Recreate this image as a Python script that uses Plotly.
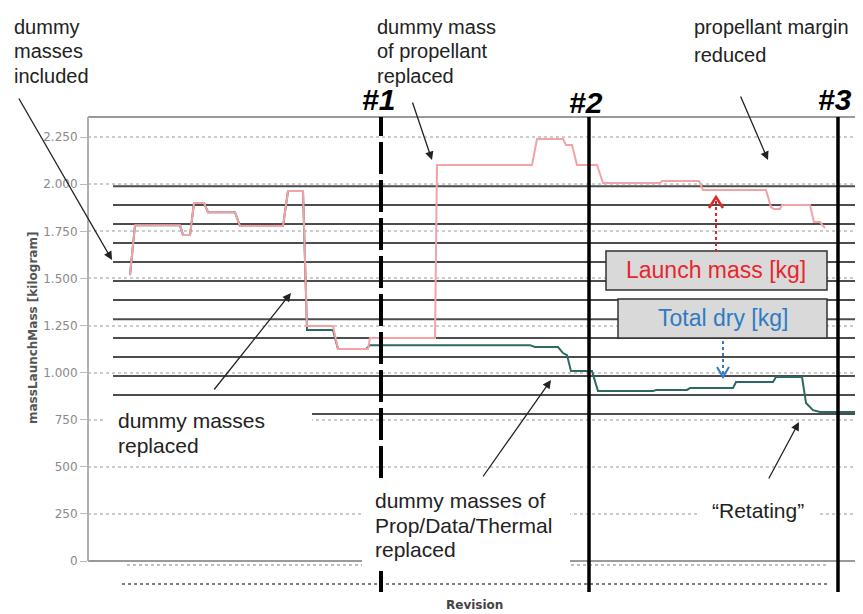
import plotly.graph_objects as go

# ---------------- data ----------------
# Launch mass [kg] per revision
rev_launch = [21, 23.5, 46, 47.5, 51, 53, 58, 60, 73.5, 76, 97.5, 100, 107.5, 109.5, 122.5, 125, 140, 141,
              173.5, 174.5, 222, 224.5, 237.5, 239, 242, 244.5, 254.5, 257.5, 286, 287, 305.5, 307.5,
              339, 341.5, 343, 346, 347, 361, 363, 366, 368.5]
launch_mass = [1518, 1783, 1783, 1730, 1730, 1900, 1900, 1852, 1852, 1778, 1778, 1964, 1964, 1247, 1247,
               1125, 1125, 1184, 1184, 2102, 2102, 2240, 2240, 2208, 2208, 2102, 2102, 2006, 2006, 2017,
               2017, 1969, 1969, 1879, 1868, 1868, 1890, 1890, 1799, 1799, 1767]

# Total dry mass [kg] per revision
rev_dry = [21, 23.5, 46, 47.5, 51, 53, 58, 60, 73.5, 76, 97.5, 100, 107.5,
           109.5, 122.5, 125, 139, 141, 221, 223.5, 235, 237.5, 239.5, 241.5, 252, 255, 282.5, 284,
           299.5, 301, 322.5, 324, 342.5, 344, 357, 359, 362.5, 366, 384.5]
total_dry = [1518, 1783, 1783, 1730, 1730, 1900, 1900, 1852, 1852, 1778, 1778, 1964, 1964,
             1226, 1226, 1125, 1125, 1146, 1146, 1136, 1136, 1104, 1093, 1008, 1008, 902, 902, 908,
             908, 918, 918, 950, 950, 977, 977, 839, 801, 791, 791]

# overlay reference levels [kg]
ref_levels = [1990, 1890, 1789, 1688, 1587, 1486, 1385, 1284, 1184, 1083, 982, 881, 780]
ref_start, ref_end = 12.5, 384.5

# milestones (revision) and labels
milestone_rev = [146.5, 250.5, 375]
milestone_lbl = ["#1", "#2", "#3"]
milestone_dash = ["32px,6px", "solid", "solid"]
milestone_bottom = -165

y_ticks = [0, 250, 500, 750, 1000, 1250, 1500, 1750, 2000, 2250]
y_range = [-207, 2357]
x_range = [0, 386]

# ---------------- layout helpers ----------------
OFF = 8                      # page body margin
SW, SH = 863, 614            # screen size
PL, PR, PT, PB = 88, 860, 117, 600   # plot area in screen pixels
W, H = SW - OFF, SH - OFF


def px(xp):
    return (xp - PL) / (PR - PL)


def py(yp):
    return (PB - yp) / (PB - PT)


fig = go.Figure()
fig.add_trace(go.Scatter(x=rev_dry, y=total_dry, mode="lines",
                         line=dict(color="#2b6a62", width=2), showlegend=False))
fig.add_trace(go.Scatter(x=rev_launch, y=launch_mass, mode="lines",
                         line=dict(color="#f3a2a6", width=2), showlegend=False))

shapes = []
for lv in ref_levels:
    shapes.append(dict(type="line", xref="x", yref="y", x0=ref_start, x1=ref_end, y0=lv, y1=lv,
                       line=dict(color="#4d4d4d", width=2), layer="between"))
# frame lines
shapes.append(dict(type="line", xref="paper", yref="paper", x0=0, x1=px(858), y0=1, y1=1,
                   line=dict(color="#9a9a9a", width=2), layer="above"))
shapes.append(dict(type="line", xref="paper", yref="y", x0=0, x1=0, y0=0, y1=y_range[1],
                   line=dict(color="#b0b0b0", width=2), layer="above"))
# dotted baselines below zero
shapes.append(dict(type="line", xref="x", yref="y", x0=19.5, x1=370, y0=-21, y1=-21,
                   line=dict(color="#aaaaaa", width=1.5, dash="dot"), layer="above"))
shapes.append(dict(type="line", xref="x", yref="y", x0=17, x1=370, y0=-122, y1=-122,
                   line=dict(color="#555555", width=1.5, dash="dot"), layer="above"))
# milestones
for r, d in zip(milestone_rev, milestone_dash):
    shapes.append(dict(type="line", xref="x", yref="y", x0=r, x1=r, y0=milestone_bottom, y1=y_range[1],
                       line=dict(color="black", width=4 if d != "solid" else 3.5, dash=d), layer="above"))
# white masks behind text
for (x0, y0, x1, y1) in [(103, 402, 312, 458), (362, 478, 570, 571), (698, 500, 818, 525)]:
    shapes.append(dict(type="rect", xref="paper", yref="paper", x0=px(x0), x1=px(x1), y0=py(y1), y1=py(y0),
                       fillcolor="white", line=dict(width=0), layer="above"))
# legend-like boxes
for (x0, y0, x1, y1) in [(606, 251, 827, 290), (618, 299, 827, 338)]:
    shapes.append(dict(type="rect", xref="paper", yref="paper", x0=px(x0), x1=px(x1), y0=py(y1), y1=py(y0),
                       fillcolor="#d9d9d9", line=dict(color="#333333", width=1.5), layer="above"))
# dotted arrows
shapes.append(dict(type="line", xref="paper", yref="paper", x0=px(716), x1=px(716), y0=py(252), y1=py(199),
                   line=dict(color="#e02424", width=2, dash="dot"), layer="above"))
shapes.append(dict(type="path", xref="paper", yref="paper",
                   path=f"M {px(709)} {py(208)} L {px(716)} {py(197)} L {px(723)} {py(208)}",
                   line=dict(color="#e02424", width=2.5), layer="above"))
shapes.append(dict(type="line", xref="paper", yref="paper", x0=px(723), x1=px(723), y0=py(341), y1=py(375),
                   line=dict(color="#2e7bc4", width=2, dash="dot"), layer="above"))
shapes.append(dict(type="path", xref="paper", yref="paper",
                   path=f"M {px(717)} {py(367)} L {px(723)} {py(377)} L {px(729)} {py(367)}",
                   line=dict(color="#2e7bc4", width=2), layer="above"))

ann = []
TXT = dict(family="Liberation Sans, Arial, sans-serif", size=20, color="#222222")
TXT21 = dict(family="Liberation Sans, Arial, sans-serif", size=21, color="#222222")


def text(s, x, y, font, xanchor="left"):
    ann.append(dict(text=s, xref="paper", yref="paper", x=px(x), y=py(y), xanchor=xanchor,
                    yanchor="middle", showarrow=False, font=font))


for s, y in [("dummy", 27), ("masses", 51), ("included", 76)]:
    text(s, 12, y, TXT)
for s, y in [("dummy mass", 27), ("of propellant", 51), ("replaced", 76)]:
    text(s, 375, y, TXT)
text("propellant margin", 692, 27, TXT)
text("reduced", 692, 55, TXT)
for s, y in [("dummy masses", 420), ("replaced", 445)]:
    text(s, 116, y, TXT21)
for s, y in [("dummy masses of", 500), ("Prop/Data/Thermal", 525), ("replaced", 549)]:
    text(s, 373, y, TXT21)
text("\u201cRetating\u201d", 758, 510, TXT21, xanchor="center")

text("Launch mass [kg]", 716, 270, dict(family="Liberation Sans, Arial", size=23, color="#e8262c"), "center")
text("Total dry [kg]", 723, 318, dict(family="Liberation Sans, Arial", size=23, color="#2e7bc4"), "center")

# milestone labels
for r, lbl, yl in zip(milestone_rev, milestone_lbl, [100, 102, 100]):
    ann.append(dict(text=f"<b><i>{lbl}</i></b>", xref="x", yref="paper", x=r, y=py(yl), xshift=-3,
                    showarrow=False, xanchor="center", yanchor="middle",
                    font=dict(family="Liberation Sans, Arial", size=30, color="black")))

# black arrows (tail -> head)
for (tx, ty, hx, hy) in [(18, 97, 112, 260), (412, 101, 432, 160), (740, 95, 768, 160),
                         (213, 391, 291, 293), (482, 478, 551, 380), (768, 480, 799, 422)]:
    ann.append(dict(text="", xref="paper", yref="paper", x=px(hx), y=py(hy), ax=tx - hx, ay=ty - hy,
                    axref="pixel", ayref="pixel", showarrow=True, arrowhead=2, arrowsize=1.3,
                    arrowwidth=1.3, arrowcolor="#222222", standoff=0, startstandoff=0))

# axis titles
ann.append(dict(text="massLaunchMass [kilogram]", xref="paper", yref="paper", x=px(33), y=py(328),
                textangle=-90, showarrow=False, xanchor="center", yanchor="middle",
                font=dict(family="DejaVu Sans", size=12, color="#555555", weight="bold")))
ann.append(dict(text="Revision", xref="paper", yref="paper", x=px(474), y=py(605),
                showarrow=False, xanchor="center", yanchor="middle",
                font=dict(family="DejaVu Sans", size=12, color="#444444", weight="bold")))

fig.update_layout(
    width=W, height=H,
    margin=dict(l=PL - OFF, r=SW - PR, t=PT - OFF, b=SH - PB),
    paper_bgcolor="white", plot_bgcolor="white",
    separators=",.",
    shapes=shapes, annotations=ann, showlegend=False,
    xaxis=dict(range=x_range, showgrid=False, zeroline=False, showticklabels=False, ticks="",
               showline=False),
    yaxis=dict(range=y_range, tickvals=y_ticks, tickformat=",", showgrid=True,
               gridcolor="#cccccc", griddash="dot", gridwidth=1.5,
               zeroline=True, zerolinecolor="#9a9a9a", zerolinewidth=2,
               ticks="outside", ticklen=7, tickcolor="#bbbbbb",
               tickfont=dict(family="DejaVu Sans", size=12, color="#8a8a8a"), showline=False),
)

fig.write_html("out.html")
